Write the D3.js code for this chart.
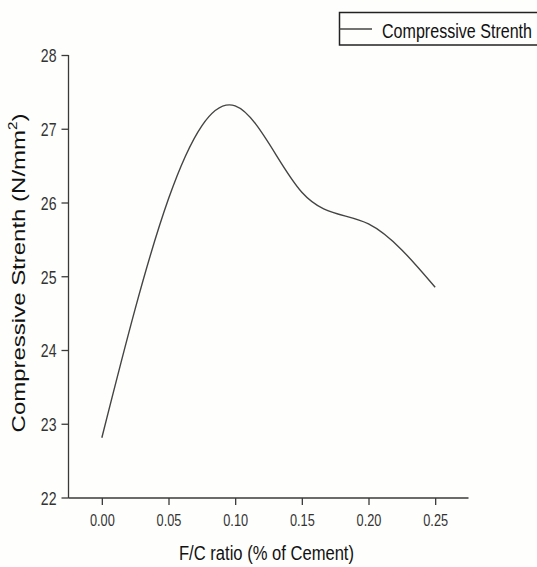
<!DOCTYPE html>
<html>
<head>
<meta charset="utf-8">
<script src="https://cdn.jsdelivr.net/npm/d3@7"></script>
<style>
  html, body { margin: 0; padding: 0; background: #fefefc; }
  svg { display: block; font-family: "Liberation Sans", Arial, sans-serif; }
</style>
</head>
<body>
<div id="chart"></div>
<script>
// values
var ratios = [0.00, 0.05, 0.10, 0.15, 0.20, 0.25];
var strength = [22.81, 26.05, 27.31, 26.14, 25.71, 24.85];
var xMajor = [0.00, 0.05, 0.10, 0.15, 0.20, 0.25];
var xMinor = [-0.025, 0.025, 0.075, 0.125, 0.175, 0.225, 0.275];
var yMajor = [22, 23, 24, 25, 26, 27, 28];
var yMinor = [22.5, 23.5, 24.5, 25.5, 26.5, 27.5];
var seriesName = "Compressive Strenth";

var width = 537, height = 567;

var svg = d3.select("#chart")
  .append("svg")
  .attr("width", width)
  .attr("height", height);

svg.append("rect")
  .attr("width", width)
  .attr("height", height)
  .attr("fill", "#fefefc");

var x = d3.scaleLinear().domain([-0.025, 0.275]).range([68.5, 468.5]);
var y = d3.scaleLinear().domain([22, 28]).range([497.5, 55]);

// squeeze text sideways (the source picture is stretched vertically)
function squash(sel, k) {
  sel.each(function() {
    var w = this.getComputedTextLength();
    d3.select(this).attr("textLength", w * k).attr("lengthAdjust", "spacingAndGlyphs");
  });
}

// x axis
var gx = svg.append("g").attr("transform", "translate(0,498)");
gx.call(d3.axisBottom(x).tickValues(xMinor).tickSize(4).tickSizeOuter(0).tickFormat(""));
gx.call(d3.axisBottom(x).tickValues(xMajor).tickSize(7).tickSizeOuter(0).tickPadding(9).tickFormat(d3.format(".2f")));
gx.selectAll("path.domain").attr("d", "M" + x.range()[0] + ",0H" + x.range()[1]);

// y axis
var gy = svg.append("g").attr("transform", "translate(68.5,0)");
gy.call(d3.axisLeft(y).tickValues(yMinor).tickSize(4).tickSizeOuter(0).tickFormat(""));
gy.call(d3.axisLeft(y).tickValues(yMajor).tickSize(7).tickSizeOuter(0).tickPadding(5).tickFormat(d3.format("d")));
gy.selectAll("path.domain").attr("d", "M0," + y.range()[1] + "V498");

svg.selectAll(".domain, .tick line")
  .attr("stroke", "#3a3a3a")
  .attr("stroke-width", 1.3);

gx.selectAll(".tick text")
  .attr("font-size", 17)
  .attr("fill", "#333")
  .call(squash, 0.75);

gy.selectAll(".tick text")
  .attr("font-size", 19)
  .attr("fill", "#333")
  .attr("dy", "0.36em")
  .call(squash, 0.74);

// curve
var line = d3.line()
  .x(function(d, i) { return x(ratios[i]); })
  .y(function(d) { return y(d); })
  .curve(d3.curveNatural);

svg.append("path")
  .datum(strength)
  .attr("d", line)
  .attr("fill", "none")
  .attr("stroke", "#444")
  .attr("stroke-width", 1.4);

// axis titles
svg.append("text")
  .attr("x", 266.5)
  .attr("y", 560)
  .attr("text-anchor", "middle")
  .attr("font-size", 20)
  .attr("fill", "#111")
  .attr("textLength", 175)
  .attr("lengthAdjust", "spacingAndGlyphs")
  .text("F/C ratio (% of Cement)");

var yt = svg.append("text")
  .attr("text-anchor", "middle")
  .attr("font-size", 19)
  .attr("fill", "#111");
yt.append("tspan").text("Compressive Strenth (N/mm");
yt.append("tspan").attr("font-size", 12).attr("dy", -8).text("2");
yt.append("tspan").attr("dy", 8).text(")");
var ytLen = yt.node().getComputedTextLength();
yt.attr("transform", "translate(25,273) rotate(-90) scale(" + (319 / ytLen) + ",1)");

// legend
svg.append("rect")
  .attr("x", 339.5)
  .attr("y", 12.5)
  .attr("width", 260)
  .attr("height", 32.5)
  .attr("fill", "none")
  .attr("stroke", "#222")
  .attr("stroke-width", 1.5);

svg.append("line")
  .attr("x1", 339.5)
  .attr("x2", 372)
  .attr("y1", 29)
  .attr("y2", 29)
  .attr("stroke", "#444")
  .attr("stroke-width", 1.4);

svg.append("text")
  .attr("x", 382)
  .attr("y", 37.5)
  .attr("font-size", 20)
  .attr("fill", "#111")
  .attr("textLength", 150)
  .attr("lengthAdjust", "spacingAndGlyphs")
  .text(seriesName);
</script>
</body>
</html>
